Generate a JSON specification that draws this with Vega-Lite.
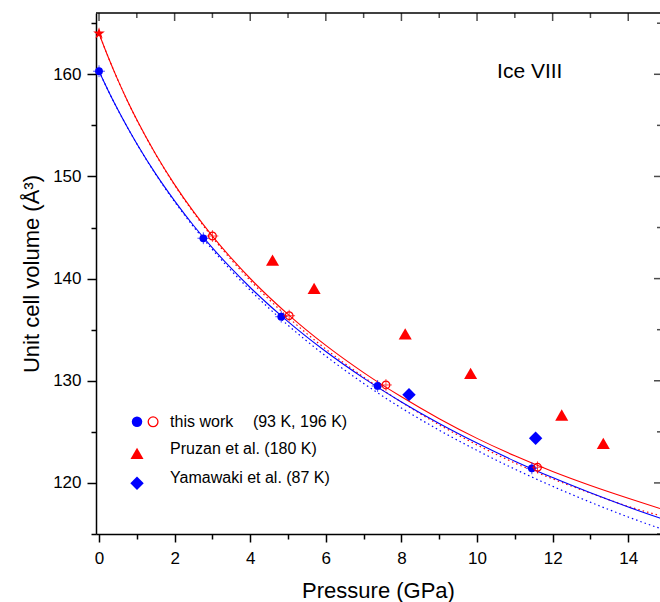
{
  "$schema": "https://vega.github.io/schema/vega-lite/v6.json",
  "width": 564,
  "height": 521,
  "autosize": "none",
  "padding": {"left": 96, "top": 13, "right": 0, "bottom": 68},
  "background": "white",
  "config": {
    "view": {"stroke": null},
    "font": "Liberation Sans",
    "axis": {"grid": false, "domainColor": "black", "tickColor": "black", "labelColor": "black", "titleColor": "black", "domainWidth": 1.5, "tickWidth": 1.5, "titleFontWeight": "normal", "labelFont": "Liberation Sans", "titleFont": "Liberation Sans"}
  },
  "datasets": {
    "fits": [
      {"P": 0, "V": 160.3, "c": "blue"}, {"P": 0.25, "V": 158.35, "c": "blue"}, {"P": 0.5, "V": 156.52, "c": "blue"}, {"P": 0.75, "V": 154.81, "c": "blue"}, {"P": 1, "V": 153.21, "c": "blue"}, {"P": 1.5, "V": 150.25, "c": "blue"}, {"P": 2, "V": 147.61, "c": "blue"}, {"P": 2.5, "V": 145.2, "c": "blue"}, {"P": 3, "V": 143.01, "c": "blue"}, {"P": 3.5, "V": 140.99, "c": "blue"}, {"P": 4, "V": 139.13, "c": "blue"}, {"P": 5, "V": 135.79, "c": "blue"}, {"P": 6, "V": 132.86, "c": "blue"}, {"P": 7, "V": 130.26, "c": "blue"}, {"P": 8, "V": 127.93, "c": "blue"}, {"P": 9, "V": 125.82, "c": "blue"}, {"P": 10, "V": 123.9, "c": "blue"}, {"P": 11, "V": 122.13, "c": "blue"}, {"P": 12, "V": 120.52, "c": "blue"}, {"P": 13, "V": 119.03, "c": "blue"}, {"P": 14, "V": 117.64, "c": "blue"}, {"P": 14.84, "V": 116.55, "c": "blue"},
      {"P": 0, "V": 164.0, "c": "red"}, {"P": 0.25, "V": 161.62, "c": "red"}, {"P": 0.5, "V": 159.43, "c": "red"}, {"P": 0.75, "V": 157.41, "c": "red"}, {"P": 1, "V": 155.54, "c": "red"}, {"P": 1.5, "V": 152.17, "c": "red"}, {"P": 2, "V": 149.2, "c": "red"}, {"P": 2.5, "V": 146.55, "c": "red"}, {"P": 3, "V": 144.16, "c": "red"}, {"P": 3.5, "V": 142.0, "c": "red"}, {"P": 4, "V": 140.01, "c": "red"}, {"P": 5, "V": 136.5, "c": "red"}, {"P": 6, "V": 133.46, "c": "red"}, {"P": 7, "V": 130.8, "c": "red"}, {"P": 8, "V": 128.43, "c": "red"}, {"P": 9, "V": 126.29, "c": "red"}, {"P": 10, "V": 124.36, "c": "red"}, {"P": 11, "V": 122.65, "c": "red"}, {"P": 12, "V": 121.12, "c": "red"}, {"P": 13, "V": 119.75, "c": "red"}, {"P": 14, "V": 118.5, "c": "red"}, {"P": 14.84, "V": 117.5, "c": "red"}
    ],
    "dots": [
      {"P": 0, "V": 160.3, "c": "blue"}, {"P": 0.25, "V": 158.35, "c": "blue"}, {"P": 0.5, "V": 156.52, "c": "blue"}, {"P": 0.75, "V": 154.81, "c": "blue"}, {"P": 1, "V": 153.19, "c": "blue"}, {"P": 1.5, "V": 150.2, "c": "blue"}, {"P": 2, "V": 147.53, "c": "blue"}, {"P": 2.5, "V": 145.08, "c": "blue"}, {"P": 3, "V": 142.84, "c": "blue"}, {"P": 3.5, "V": 140.77, "c": "blue"}, {"P": 4, "V": 138.86, "c": "blue"}, {"P": 5, "V": 135.43, "c": "blue"}, {"P": 6, "V": 132.42, "c": "blue"}, {"P": 7, "V": 129.74, "c": "blue"}, {"P": 8, "V": 127.33, "c": "blue"}, {"P": 9, "V": 125.16, "c": "blue"}, {"P": 10, "V": 123.18, "c": "blue"}, {"P": 11, "V": 121.35, "c": "blue"}, {"P": 12, "V": 119.67, "c": "blue"}, {"P": 13, "V": 118.11, "c": "blue"}, {"P": 14, "V": 116.66, "c": "blue"}, {"P": 14.84, "V": 115.55, "c": "blue"},
      {"P": 0, "V": 164.0, "c": "red"}, {"P": 0.25, "V": 161.62, "c": "red"}, {"P": 0.5, "V": 159.43, "c": "red"}, {"P": 0.75, "V": 157.41, "c": "red"}, {"P": 1, "V": 155.53, "c": "red"}, {"P": 1.5, "V": 152.15, "c": "red"}, {"P": 2, "V": 149.15, "c": "red"}, {"P": 2.5, "V": 146.47, "c": "red"}, {"P": 3, "V": 144.04, "c": "red"}, {"P": 3.5, "V": 141.84, "c": "red"}, {"P": 4, "V": 139.81, "c": "red"}, {"P": 5, "V": 136.22, "c": "red"}, {"P": 6, "V": 133.1, "c": "red"}, {"P": 7, "V": 130.36, "c": "red"}, {"P": 8, "V": 127.91, "c": "red"}, {"P": 9, "V": 125.69, "c": "red"}, {"P": 10, "V": 123.72, "c": "red"}, {"P": 11, "V": 121.95, "c": "red"}, {"P": 12, "V": 120.4, "c": "red"}, {"P": 13, "V": 119.0, "c": "red"}, {"P": 14, "V": 117.7, "c": "red"}, {"P": 14.84, "V": 116.8, "c": "red"}
    ],
    "work93": [
      {"P": 0, "V": 160.3}, {"P": 2.76, "V": 143.95}, {"P": 4.82, "V": 136.27}, {"P": 7.37, "V": 129.49}, {"P": 11.45, "V": 121.43}
    ],
    "work196": [
      {"P": 3.0, "V": 144.17}, {"P": 5.03, "V": 136.37}, {"P": 7.59, "V": 129.59}, {"P": 11.6, "V": 121.53}
    ],
    "star": [{"P": 0, "V": 164.0}],
    "pruzan": [
      {"P": 4.59, "V": 141.8}, {"P": 5.69, "V": 139.05}, {"P": 8.1, "V": 134.58}, {"P": 9.83, "V": 130.73}, {"P": 12.24, "V": 126.65}, {"P": 13.34, "V": 123.88}
    ],
    "yamawaki": [
      {"P": 8.2, "V": 128.64}, {"P": 11.55, "V": 124.37}
    ],
    "legText": [
      {"P": 1.88, "V": 125.98, "t": "this work"},
      {"P": 4.07, "V": 125.98, "t": "(93 K, 196 K)"},
      {"P": 1.88, "V": 123.31, "t": "Pruzan et al. (180 K)"},
      {"P": 1.88, "V": 120.53, "t": "Yamawaki et al. (87 K)"}
    ],
    "topMajor": [{"P": 0, "V": 166}, {"P": 2, "V": 166}, {"P": 4, "V": 166}, {"P": 6, "V": 166}, {"P": 8, "V": 166}, {"P": 10, "V": 166}, {"P": 12, "V": 166}, {"P": 14, "V": 166}],
    "topMinor": [{"P": 1, "V": 166}, {"P": 3, "V": 166}, {"P": 5, "V": 166}, {"P": 7, "V": 166}, {"P": 9, "V": 166}, {"P": 11, "V": 166}, {"P": 13, "V": 166}],
    "rightMajor": [{"P": 14.84, "V": 120}, {"P": 14.84, "V": 130}, {"P": 14.84, "V": 140}, {"P": 14.84, "V": 150}, {"P": 14.84, "V": 160}],
    "rightMinor": [{"P": 14.84, "V": 115}, {"P": 14.84, "V": 125}, {"P": 14.84, "V": 135}, {"P": 14.84, "V": 145}, {"P": 14.84, "V": 155}, {"P": 14.84, "V": 165}],
    "topFrame": [{"P": -0.08, "P2": 14.84, "V": 166}]
  },
  "encoding": {
    "x": {"field": "P", "type": "quantitative", "scale": {"domain": [-0.08, 14.84], "nice": false, "zero": false},
      "axis": {"orient": "bottom", "values": [0,1,2,3,4,5,6,7,8,9,10,11,12,13,14], "labelExpr": "datum.value % 2 === 0 ? datum.label : ''",
        "tickSize": {"condition": {"test": "datum.value % 2 === 0", "value": 8}, "value": 5},
        "labelFontSize": 17, "labelPadding": 8, "labelFlush": false, "labelOverlap": false,
        "title": "Pressure (GPa)", "titleFontSize": 22, "titlePadding": 14}},
    "y": {"field": "V", "type": "quantitative", "scale": {"domain": [115, 166], "nice": false, "zero": false},
      "axis": {"orient": "left", "values": [115,120,125,130,135,140,145,150,155,160,165], "labelExpr": "datum.value % 10 === 0 ? datum.label : ''",
        "tickSize": {"condition": {"test": "datum.value % 10 === 0", "value": 9}, "value": 5},
        "labelFontSize": 17, "labelPadding": 6, "labelOverlap": false,
        "title": "Unit cell volume (Å³)", "titleFontSize": 22, "titlePadding": 9}}
  },
  "layer": [
    {
      "data": {"name": "topFrame"},
      "mark": {"type": "rule", "color": "black", "strokeWidth": 1.5},
      "encoding": {"x2": {"field": "P2"}}
    },
    {
      "data": {"name": "topMajor"},
      "mark": {"type": "tick", "orient": "vertical", "color": "black", "thickness": 1.5, "size": 16, "clip": true},
      "encoding": {}
    },
    {
      "data": {"name": "topMinor"},
      "mark": {"type": "tick", "orient": "vertical", "color": "black", "thickness": 1.5, "size": 10, "clip": true},
      "encoding": {}
    },
    {
      "data": {"name": "rightMajor"},
      "mark": {"type": "tick", "orient": "horizontal", "color": "black", "thickness": 1.5, "size": 12, "clip": true},
      "encoding": {}
    },
    {
      "data": {"name": "rightMinor"},
      "mark": {"type": "tick", "orient": "horizontal", "color": "black", "thickness": 1.5, "size": 6, "clip": true},
      "encoding": {}
    },
    {
      "data": {"name": "dots"},
      "mark": {"type": "line", "strokeWidth": 1.2, "strokeDash": [1.5, 3], "interpolate": "monotone"},
      "encoding": {
        "color": {"field": "c", "type": "nominal", "scale": {"domain": ["blue", "red"], "range": ["#0000ff", "#ff0000"]}, "legend": null}
      }
    },
    {
      "data": {"name": "fits"},
      "mark": {"type": "line", "strokeWidth": 1.1, "interpolate": "monotone"},
      "encoding": {
        "color": {"field": "c", "type": "nominal", "scale": {"domain": ["blue", "red"], "range": ["#0000ff", "#ff0000"]}, "legend": null}
      }
    },
    {
      "data": {"name": "work93"},
      "mark": {"type": "point", "shape": "M-1,0H1M0,-1V1", "filled": false, "stroke": "#0000ff", "strokeWidth": 1, "size": 140}
    },
    {
      "data": {"name": "work93"},
      "mark": {"type": "point", "shape": "circle", "filled": true, "color": "#0000ff", "opacity": 1, "size": 60}
    },
    {
      "data": {"name": "work196"},
      "mark": {"type": "point", "shape": "M-1,0H1M0,-1V1", "filled": false, "stroke": "#ff0000", "strokeWidth": 1, "size": 140}
    },
    {
      "data": {"name": "work196"},
      "mark": {"type": "point", "shape": "circle", "filled": false, "color": "#ff0000", "strokeWidth": 1.2, "opacity": 1, "size": 60}
    },
    {
      "data": {"name": "star"},
      "mark": {"type": "point", "shape": "M0,-1L0.2233,-0.3074L0.9511,-0.309L0.3614,0.1174L0.5878,0.809L0,0.38L-0.5878,0.809L-0.3614,0.1174L-0.9511,-0.309L-0.2233,-0.3074Z", "filled": true, "color": "#ff0000", "opacity": 1, "size": 150}
    },
    {
      "data": {"name": "pruzan"},
      "mark": {"type": "point", "shape": "triangle-up", "filled": true, "color": "#ff0000", "opacity": 1, "size": 170}
    },
    {
      "data": {"name": "yamawaki"},
      "mark": {"type": "point", "shape": "diamond", "filled": true, "color": "#0000ff", "opacity": 1, "size": 180}
    },
    {
      "data": {"values": [{"P": 1.005, "V": 125.98}]},
      "mark": {"type": "point", "shape": "circle", "filled": true, "color": "#0000ff", "opacity": 1, "size": 110}
    },
    {
      "data": {"values": [{"P": 1.43, "V": 125.98}]},
      "mark": {"type": "point", "shape": "circle", "filled": false, "color": "#ff0000", "strokeWidth": 1.3, "opacity": 1, "size": 95}
    },
    {
      "data": {"values": [{"P": 1.005, "V": 122.9}]},
      "mark": {"type": "point", "shape": "triangle-up", "filled": true, "color": "#ff0000", "opacity": 1, "size": 170}
    },
    {
      "data": {"values": [{"P": 1.005, "V": 119.97}]},
      "mark": {"type": "point", "shape": "diamond", "filled": true, "color": "#0000ff", "opacity": 1, "size": 180}
    },
    {
      "data": {"name": "legText"},
      "mark": {"type": "text", "align": "left", "baseline": "middle", "fontSize": 16, "color": "black", "font": "Liberation Sans"},
      "encoding": {"text": {"field": "t"}}
    },
    {
      "data": {"values": [{"P": 10.53, "V": 160.22, "t": "Ice VIII"}]},
      "mark": {"type": "text", "align": "left", "baseline": "middle", "fontSize": 21, "color": "black", "font": "Liberation Sans"},
      "encoding": {"text": {"field": "t"}}
    }
  ]
}
